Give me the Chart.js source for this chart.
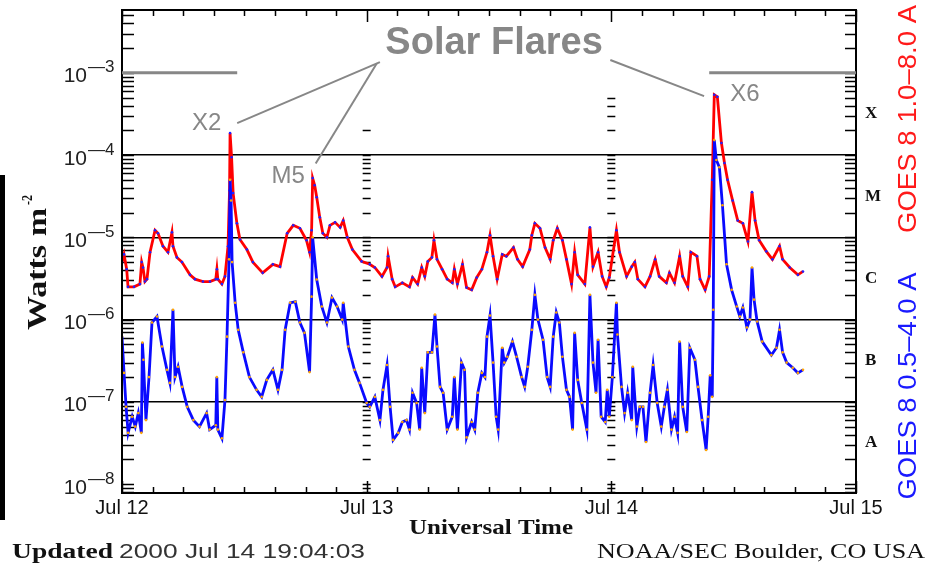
<!DOCTYPE html>
<html>
<head>
<meta charset="utf-8">
<script src="https://cdn.jsdelivr.net/npm/chart.js@4.4.1/dist/chart.umd.min.js"></script>
<style>
  html, body { margin: 0; padding: 0; background: #fff; }
  #wrap { width: 940px; height: 567px; }
</style>
</head>
<body>
<div id="wrap"><canvas id="goes" width="940" height="567"></canvas></div>
<script>
// GOES 8 X-ray flux, 3 days from Jul 12 00:00 UT (hours)
const dayLabels = ['Jul 12', 'Jul 13', 'Jul 14', 'Jul 15'];
const decadeExponents = [-8, -7, -6, -5, -4, -3];
const gridExponents = [-7, -6, -5, -4];
const classLabels = ['A', 'B', 'C', 'M', 'X'];

// 1.0-8.0 A channel (red)
const longHours = [
  0, 0.2, 0.46, 0.59, 1.18, 1.76, 1.93, 2.06, 2.25, 2.45,
  2.75, 3.24, 3.53, 4.02, 4.51, 4.9, 5.0, 5.39, 5.88, 6.67,
  7.16, 7.94, 8.63, 9.2, 9.31, 9.4, 9.8, 10.1, 10.4, 10.55,
  10.6, 10.75, 10.9, 11.27, 11.57, 12.25, 12.84, 13.8, 14.8, 15.5,
  16.2, 16.8, 17.45, 18.1, 18.4, 18.6, 18.7, 18.9, 19.1, 19.4,
  19.7, 20.1, 20.4, 20.9, 21.4, 21.7, 22.1, 22.6, 23.5, 24.3,
  24.8, 25.5, 26.0, 26.1, 26.5, 26.8, 27.5, 28.2, 28.5, 29.0,
  29.4, 29.7, 30.0, 30.4, 30.6, 30.9, 31.4, 31.9, 32.4, 32.6,
  32.9, 33.4, 33.8, 34.3, 34.8, 35.3, 35.8, 36.1, 36.4, 36.8,
  37.3, 37.7, 38.4, 38.8, 39.3, 40.0, 40.2, 40.5, 41.0, 41.5,
  42.0, 42.3, 42.7, 43.2, 43.6, 44.1, 44.4, 44.7, 45.4, 45.9,
  46.2, 46.7, 47.1, 47.5, 47.8,
  48.5, 48.8, 49.5, 50.0, 50.3, 50.6, 51.3, 51.8, 52.3, 52.7,
  53.4, 53.7, 54.2, 54.7, 55.0, 55.5, 55.8, 56.4, 56.7, 57.2,
  57.6, 57.9, 58.1, 58.4, 58.8, 59.1, 59.4, 59.9, 60.4, 60.9,
  61.4, 61.8, 62.1, 62.5, 63.2, 63.8, 64.5, 64.8, 65.5, 66.3,
  66.8
];
const longFlux = [
  5.0e-6, 6.2e-6, 4.1e-6, 2.5e-6, 2.5e-6, 2.7e-6, 5.0e-6, 4.3e-6, 2.9e-6, 3.1e-6,
  6.6e-6, 1.22e-5, 1.12e-5, 7.8e-6, 6.6e-6, 1.15e-5, 7.8e-6, 5.7e-6, 5.0e-6, 3.5e-6,
  3.1e-6, 2.9e-6, 2.9e-6, 3.1e-6, 4.1e-6, 3.1e-6, 2.7e-6, 3.35e-6, 7.8e-6, 3.7e-5,
  1.85e-4, 9.4e-5, 3.45e-5, 1.48e-5, 9.4e-6, 7.1e-6, 5.0e-6, 3.7e-6, 4.7e-6, 4.4e-6,
  1.12e-5, 1.4e-5, 1.29e-5, 9.2e-6, 6.6e-6, 1.22e-5, 5.25e-5, 4.3e-5, 3.07e-5, 1.75e-5,
  1.12e-5, 1.0e-5, 1.4e-5, 1.52e-5, 1.32e-5, 1.6e-5, 1.0e-5, 7.1e-6, 5.1e-6, 4.7e-6,
  4.3e-6, 3.35e-6, 4.3e-6, 5.9e-6, 3.1e-6, 2.5e-6, 2.8e-6, 2.5e-6, 3.25e-6, 2.7e-6,
  4.3e-6, 3.35e-6, 5.1e-6, 5.7e-6, 9.2e-6, 5.4e-6, 4.1e-6, 3.1e-6, 2.8e-6, 4.1e-6,
  2.7e-6, 4.7e-6, 2.45e-6, 2.3e-6, 3.25e-6, 4.1e-6, 6.6e-6, 1.06e-5, 5.9e-6, 3.1e-6,
  6.2e-6, 5.9e-6, 7.5e-6, 5.4e-6, 4.4e-6, 7.1e-6, 1.06e-5, 1.48e-5, 1.29e-5, 7.5e-6,
  5.4e-6, 9.2e-6, 1.29e-5, 9.2e-6, 5.4e-6, 2.7e-6, 6.6e-6, 3.5e-6, 2.7e-6, 1.32e-5,
  4.4e-6, 6.6e-6, 3.35e-6, 2.5e-6, 3.25e-6,
  1.22e-5, 6.6e-6, 3.35e-6, 4.4e-6, 5.0e-6, 3.1e-6, 2.5e-6, 3.35e-6, 5.4e-6, 3.35e-6,
  2.8e-6, 3.7e-6, 2.8e-6, 5.9e-6, 3.35e-6, 2.5e-6, 6.6e-6, 5.9e-6, 3.1e-6, 2.3e-6,
  3.35e-6, 5.0e-5, 5.4e-4, 5.1e-4, 1.4e-4, 8.0e-5, 5.0e-5, 2.8e-5, 1.6e-5, 1.48e-5,
  8.9e-6, 3.54e-5, 1.6e-5, 9.2e-6, 6.75e-6, 5.4e-6, 7.8e-6, 5.4e-6, 4.3e-6, 3.5e-6,
  3.85e-6
];

// 0.5-4.0 A channel (blue)
const shortHours = [
  0, 0.2, 0.4, 0.6, 1.0, 1.3, 1.6, 1.9, 2.0, 2.1,
  2.35, 2.65, 2.94, 3.43, 3.92, 4.41, 4.7, 5.0, 5.2, 5.5,
  5.9, 6.4, 7.0, 7.6, 8.3, 8.6, 9.2, 9.3, 9.4, 9.8,
  10.1, 10.3, 10.5, 10.6, 10.7, 10.8, 11.1, 11.4, 11.9, 12.5,
  13.2, 13.7, 14.2, 14.8, 15.3, 15.7, 16.0, 16.5, 17.0, 17.45,
  17.9, 18.4, 18.6, 18.7, 19.1, 19.6, 20.1, 20.6, 21.1, 21.6,
  21.7, 22.2, 22.8, 23.3, 24.0,
  24.3, 24.8, 25.3, 25.6, 26.0, 26.3, 26.6, 27.1, 27.5, 27.9,
  28.2, 28.5, 28.9, 29.2, 29.4, 29.7, 30.0, 30.4, 30.7, 30.9,
  31.2, 31.5, 31.9, 32.4, 32.6, 32.9, 33.3, 33.6, 33.8, 34.3,
  34.6, 34.9, 35.3, 35.6, 35.8, 36.1, 36.4, 36.7, 36.9, 37.3,
  37.5, 37.8, 38.3, 38.7, 39.2, 39.5, 39.8, 40.2, 40.5, 40.8,
  41.3, 41.7, 42.0, 42.3, 42.6, 42.9, 43.2, 43.6, 43.9, 44.2,
  44.4, 44.7, 45.1, 45.6, 45.9, 46.2, 46.5, 46.7, 47.0, 47.4,
  47.6,
  47.8, 48.1, 48.5, 48.6, 49.0, 49.3, 49.6, 50.0, 50.1, 50.5,
  50.8, 51.1, 51.4, 51.8, 52.1, 52.5, 52.9, 53.2, 53.5, 53.9,
  54.2, 54.5, 54.7, 55.0, 55.4, 55.7, 56.2, 56.5, 56.9, 57.3,
  57.5, 57.7, 57.9, 58.0, 58.1, 58.3, 58.6, 58.9, 59.3, 59.8,
  60.3, 60.6, 60.9, 61.3, 61.6, 61.8, 62.0, 62.3, 62.8, 63.7,
  64.2, 64.5, 64.8, 65.2, 65.8, 66.3, 66.8
];
const shortFlux = [
  6.2e-7, 2.25e-7, 8.7e-8, 4.2e-8, 6.6e-8, 5.0e-8, 7.3e-8, 4.2e-8, 5.25e-7, 3.25e-7,
  6.0e-8, 2.0e-7, 9.2e-7, 1.09e-6, 4.7e-7, 2.45e-7, 1.7e-7, 1.32e-6, 2.0e-7, 2.67e-7,
  1.52e-7, 8.7e-8, 6.0e-8, 5.0e-8, 7.3e-8, 4.6e-8, 5.2e-8, 2.0e-7, 4.6e-8, 3.6e-8,
  1.05e-7, 6.2e-7, 5.4e-6, 5.0e-5, 2.8e-5, 5.0e-6, 1.6e-6, 7.5e-7, 4.0e-7, 2.0e-7,
  1.4e-7, 1.15e-7, 1.85e-7, 2.45e-7, 1.4e-7, 2.45e-7, 7.5e-7, 1.6e-6, 1.65e-6, 9.2e-7,
  6.9e-7, 2.3e-7, 1.9e-6, 1.0e-5, 3.07e-6, 1.44e-6, 9.2e-7, 1.85e-6, 1.44e-6, 1.0e-6,
  1.6e-6, 4.7e-7, 2.45e-7, 1.7e-7, 9.7e-8,
  8.7e-8, 1.15e-7, 6.0e-8, 1.4e-7, 2.8e-7, 8.7e-8, 3.45e-8, 4.2e-8, 5.7e-8, 6.0e-8,
  4.6e-8, 1.29e-7, 9.7e-8, 4.6e-8, 2.6e-7, 7.3e-8, 4.0e-7, 4.0e-7, 1.15e-6, 4.7e-7,
  1.52e-7, 1.29e-7, 4.6e-8, 6.6e-8, 2.0e-7, 4.6e-8, 3.0e-7, 2.45e-7, 3.7e-8, 5.7e-8,
  4.6e-8, 1.29e-7, 2.25e-7, 2.0e-7, 6.2e-7, 1.12e-6, 3.0e-7, 6.6e-8, 4.6e-8, 4.55e-7,
  3.0e-7, 3.54e-7, 5.4e-7, 3.54e-7, 2.0e-7, 1.52e-7, 2.67e-7, 7.5e-7, 2.0e-6, 1.0e-6,
  5.7e-7, 2.0e-7, 1.52e-7, 6.2e-7, 1.22e-6, 9.2e-7, 3.54e-7, 1.4e-7, 1.15e-7, 4.6e-8,
  6.9e-7, 1.85e-7, 9.7e-8, 4.6e-8, 2.0e-6, 3.0e-7, 1.29e-7, 5.7e-7, 6.6e-8, 5.7e-8,
  1.4e-7,
  6.6e-8, 2.0e-7, 1.6e-6, 6.6e-7, 1.52e-7, 7.3e-8, 1.29e-7, 6.0e-8, 2.67e-7, 5.0e-8,
  8.7e-8, 8.7e-8, 3.25e-8, 1.29e-7, 2.8e-7, 9.7e-8, 5.0e-8, 8.7e-8, 1.4e-7, 4.6e-8,
  6.6e-8, 4.2e-8, 5.4e-7, 8.7e-8, 4.3e-8, 4.55e-7, 3.25e-7, 1.52e-7, 6.0e-8, 2.6e-8,
  6.6e-8, 2.1e-7, 1.15e-7, 1.32e-6, 1.52e-4, 8.7e-5, 7.1e-5, 2.45e-5, 4.7e-6, 2.3e-6,
  1.44e-6, 1.09e-6, 1.4e-6, 8.0e-7, 1.0e-6, 4.3e-6, 1.75e-6, 9.5e-7, 5.4e-7, 3.7e-7,
  4.55e-7, 7.5e-7, 4.0e-7, 3.0e-7, 2.6e-7, 2.25e-7, 2.45e-7
];

const yMin = 7.8e-9;
const yMax = 5.8e-3;

// flare annotations, in data units (hours, W m-2)
const flareLines = [
  [0, 1e-3, 11.3, 1e-3],
  [57.6, 1e-3, 72, 1e-3],
  [25.3, 1.35e-3, 11.3, 2.45e-4],
  [25.0, 1.31e-3, 19.0, 7.9e-5],
  [47.9, 1.43e-3, 57.1, 5.2e-4]
];
const flareLabels = [
  { text: 'X2', h: 8.3, v: 2.4e-4 },
  { text: 'M5', h: 16.3, v: 5.5e-5 },
  { text: 'X6', h: 61.1, v: 5.5e-4 }
];

const GRAY = '#878787';
const SANS = '"Liberation Sans", Arial, sans-serif';
const SERIF = '"Liberation Serif", "Times New Roman", serif';

// draw text squeezed/stretched to a given width (the original is a stretched image)
function fitText(ctx, text, x, y, font, width, align) {
    ctx.font = font;
    const w = ctx.measureText(text).width;
    const sx = width / w;
    ctx.save();
    ctx.translate(x, y);
    ctx.scale(sx, 1);
    ctx.textAlign = 'left';
    const off = align === 'right' ? -w : (align === 'center' ? -w / 2 : 0);
    ctx.fillText(text, off, 0);
    ctx.restore();
}

const goesFrame = {
    id: 'goesFrame',
    beforeDatasetsDraw(chart) {
        const ctx = chart.ctx;
        const { left, right, top, bottom } = chart.chartArea;
        const xs = chart.scales.x, ys = chart.scales.y;
        ctx.save();
        ctx.strokeStyle = '#000';
        ctx.lineWidth = 1.5;
        ctx.beginPath();
        // inward y ticks on both sides, plus the day-boundary columns
        for (let e = -9; e <= -2; e++) {
            for (let m = 1; m <= 9; m++) {
                const v = m * Math.pow(10, e);
                if (v < yMin || v > yMax) continue;
                const py = Math.round(ys.getPixelForValue(v)) + 0.5;
                ctx.moveTo(left, py); ctx.lineTo(left + 12, py);
                ctx.moveTo(right, py); ctx.lineTo(right - 11, py);
                [[24, 2.1e-4], [48, 5.1e-4]].forEach(([h, vmax]) => {
                    if (v > vmax) return;
                    const px = xs.getPixelForValue(h);
                    ctx.moveTo(px - 4, py); ctx.lineTo(px + 4, py);
                });
            }
        }
        // inward x ticks every 3 hours
        for (let h = 0; h <= 72; h += 3) {
            const px = Math.round(xs.getPixelForValue(h)) + 0.5;
            const len = h % 24 === 0 ? 12 : 6;
            ctx.moveTo(px, bottom); ctx.lineTo(px, bottom - len);
            ctx.moveTo(px, top); ctx.lineTo(px, top + len);
        }
        ctx.stroke();
        ctx.restore();
    },
    afterDraw(chart) {
        const ctx = chart.ctx;
        const { left, right, top, bottom } = chart.chartArea;
        const xs = chart.scales.x, ys = chart.scales.y;
        ctx.save();

        // frame
        ctx.strokeStyle = '#000';
        ctx.lineWidth = 2;
        ctx.strokeRect(left, top, right - left, bottom - top);

        // left edge bar
        ctx.fillStyle = '#000';
        ctx.fillRect(0, 175, 5, 345);

        // 10^n labels
        ctx.fillStyle = '#222';
        ctx.textBaseline = 'alphabetic';
        decadeExponents.forEach(e => {
            const py = ys.getPixelForValue(Math.pow(10, e));
            ctx.font = '21px ' + SANS;
            ctx.textAlign = 'right';
            ctx.fillText('10', 87, py + 9.5);
            ctx.textAlign = 'left';
            ctx.font = '17px ' + SANS;
            ctx.fillText('\u2014' + Math.abs(e), 88, py - 0.5);
        });

        // y title
        ctx.save();
        ctx.translate(39, 269);
        ctx.rotate(-Math.PI / 2);
        ctx.fillStyle = '#111';
        ctx.textBaseline = 'middle';
        fitText(ctx, 'Watts m', 0, 0, 'bold 27px ' + SERIF, 122, 'center');
        fitText(ctx, '-2', 64, -11, 'bold 14px ' + SERIF, 10, 'left');
        ctx.restore();

        // channel labels
        ctx.textBaseline = 'middle';
        [['GOES 8 1.0\u20138.0 A', '#ff1a1a', 119, 228], ['GOES 8 0.5\u20134.0 A', '#1a1aff', 386, 227]]
            .forEach(([t, c, cy, w]) => {
                ctx.save();
                ctx.translate(909, cy);
                ctx.rotate(-Math.PI / 2);
                ctx.fillStyle = c;
                fitText(ctx, t, 0, 0, '26px ' + SANS, w, 'center');
                ctx.restore();
            });

        // bottom texts
        ctx.fillStyle = '#111';
        fitText(ctx, 'Universal Time', 491, 528, 'bold 22px ' + SERIF, 164, 'center');
        fitText(ctx, 'Updated', 12, 552, 'bold 22px ' + SERIF, 101, 'left');
        ctx.fillStyle = '#333';
        fitText(ctx, '2000 Jul 14 19:04:03', 119, 552, '20px ' + SANS, 246, 'left');
        ctx.fillStyle = '#111';
        fitText(ctx, 'NOAA/SEC Boulder, CO USA', 925, 552, '22px ' + SERIF, 328, 'right');

        // flare annotations
        ctx.strokeStyle = GRAY;
        ctx.lineCap = 'butt';
        flareLines.forEach(([h1, v1, h2, v2], i) => {
            ctx.lineWidth = i < 2 ? 3 : 2;
            ctx.beginPath();
            ctx.moveTo(xs.getPixelForValue(h1), ys.getPixelForValue(v1));
            ctx.lineTo(xs.getPixelForValue(h2), ys.getPixelForValue(v2));
            ctx.stroke();
        });
        ctx.fillStyle = GRAY;
        ctx.textAlign = 'center';
        ctx.textBaseline = 'middle';
        ctx.font = 'bold 38px ' + SANS;
        ctx.fillText('Solar Flares', xs.getPixelForValue(36.5), ys.getPixelForValue(2.24e-3));
        ctx.font = '24px ' + SANS;
        flareLabels.forEach(l => {
            ctx.fillText(l.text, xs.getPixelForValue(l.h), ys.getPixelForValue(l.v));
        });
        ctx.restore();
    }
};

const noVerticalPadding = s => { s.paddingTop = 0; s.paddingBottom = 0; };

new Chart(document.getElementById('goes'), {
    type: 'line',
    data: {
        datasets: [{
            label: 'GOES 8 1.0-8.0 A',
            data: longHours.map((h, i) => ({ x: h, y: longFlux[i] })),
            borderColor: '#ff0000',
            borderWidth: 2.8,
            pointRadius: 1.3,
            pointBorderWidth: 0,
            pointBackgroundColor: '#2020ff',
            order: 2
        }, {
            label: 'GOES 8 0.5-4.0 A',
            data: shortHours.map((h, i) => ({ x: h, y: shortFlux[i] })),
            borderColor: '#0a0aff',
            borderWidth: 2.8,
            pointRadius: 1.3,
            pointBorderWidth: 0,
            pointBackgroundColor: '#ffa500',
            order: 1
        }]
    },
    options: {
        responsive: false,
        animation: false,
        events: [],
        layout: { padding: { top: 10, left: 0, right: 0, bottom: 0 } },
        plugins: { legend: { display: false }, tooltip: { enabled: false } },
        scales: {
            x: {
                type: 'linear',
                position: 'bottom',
                min: 0,
                max: 72,
                afterBuildTicks: s => { s.ticks = dayLabels.map((_, i) => ({ value: i * 24 })); },
                afterFit: s => { s.height = 74; },
                ticks: {
                    callback: v => dayLabels[Math.round(v / 24)],
                    font: { family: SANS, size: 20 },
                    color: '#111',
                    padding: 3,
                    maxRotation: 0,
                    autoSkip: false
                },
                grid: { display: false, drawTicks: false },
                border: { display: false }
            },
            y: {
                type: 'logarithmic',
                position: 'left',
                min: yMin,
                max: yMax,
                afterBuildTicks: s => { s.ticks = decadeExponents.map(e => ({ value: Math.pow(10, e) })); },
                afterFit: s => { s.width = 122; noVerticalPadding(s); },
                ticks: { display: false },
                grid: {
                    drawTicks: false,
                    lineWidth: 1.5,
                    color: c => gridExponents.includes(Math.round(Math.log10(c.tick.value))) ? '#000' : 'rgba(0,0,0,0)'
                },
                border: { display: false }
            },
            y2: {
                type: 'logarithmic',
                position: 'right',
                min: yMin,
                max: yMax,
                afterBuildTicks: s => { s.ticks = classLabels.map((_, i) => ({ value: Math.sqrt(10) * Math.pow(10, -8 + i) })); },
                afterFit: s => { s.width = 84; noVerticalPadding(s); },
                ticks: {
                    callback: (v, i) => classLabels[i],
                    font: { family: SERIF, size: 17, weight: 'bold' },
                    color: '#111',
                    padding: 9
                },
                grid: { display: false, drawTicks: false },
                border: { display: false }
            }
        }
    },
    plugins: [goesFrame]
});
</script>
</body>
</html>
